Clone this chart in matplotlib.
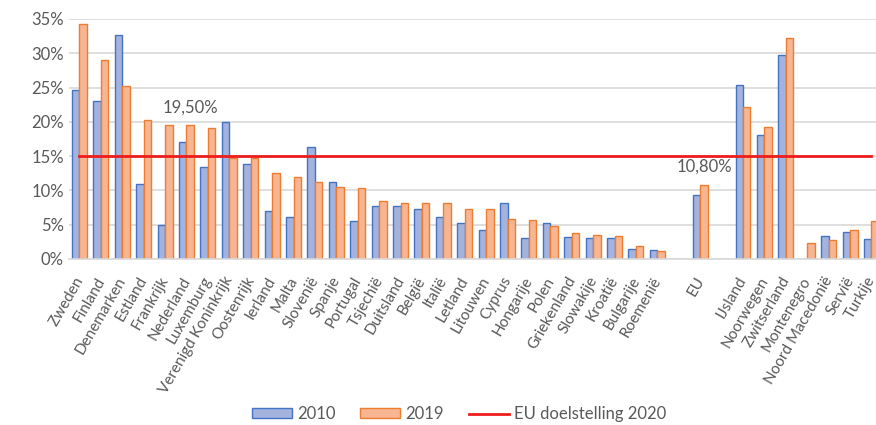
import numpy as np
import matplotlib
matplotlib.use('Agg')
import matplotlib.pyplot as plt
import matplotlib.transforms as mtransforms
from matplotlib.ticker import FuncFormatter

plt.rcParams['font.family'] = ['Lato', 'DejaVu Sans']

# data (share in %)
countries = ['Zweden', 'Finland', 'Denemarken', 'Estland', 'Frankrijk', 'Nederland',
             'Luxemburg', 'Verenigd Koninkrijk', 'Oostenrijk', 'Ierland', 'Malta',
             'Slovenië', 'Spanje', 'Portugal', 'Tsjechië', 'Duitsland', 'België',
             'Italië', 'Letland', 'Litouwen', 'Cyprus', 'Hongarije', 'Polen',
             'Griekenland', 'Slowakije', 'Kroatië', 'Bulgarije', 'Roemenië', '',
             'EU', '', 'IJsland', 'Noorwegen', 'Zwitserland', 'Montenegro',
             'Noord Macedonië', 'Servië', 'Turkije']
nan = np.nan
values_2010 = [24.7, 23.0, 32.6, 11.0, 5.0, 17.0, 13.4, 20.0, 13.8, 7.0, 6.1,
               16.4, 11.2, 5.6, 7.7, 7.7, 7.3, 6.1, 5.3, 4.3, 8.1, 3.0, 5.2,
               3.2, 3.1, 3.0, 1.5, 1.3, nan,
               9.3, nan, 25.4, 18.1, 29.8, nan, 3.4, 3.9, 2.9]
values_2019 = [34.3, 29.0, 25.3, 20.2, 19.5, 19.5, 19.1, 14.7, 14.7, 12.5, 11.9,
               11.2, 10.5, 10.4, 8.5, 8.2, 8.2, 8.1, 7.3, 7.3, 5.8, 5.7, 4.8,
               3.8, 3.5, 3.4, 1.9, 1.2, nan,
               10.8, nan, 22.2, 19.3, 32.3, 2.4, 2.8, 4.3, 5.6]
target_2020 = 15.0
labelled = {'Nederland': '19,50%', 'EU': '10,80%'}

grey = '#595959'
x = np.arange(len(countries))
w = 0.35

fig = plt.figure(figsize=(8.76, 4.25), dpi=100)
ax = fig.add_axes([0.0785, 0.3906, 0.9285, 0.5647])

b1 = ax.bar(x - w / 2, values_2010, w, color='#A3B3DE', edgecolor='#4472C4',
            linewidth=1.0, label='2010', zorder=2)
b2 = ax.bar(x + w / 2, values_2019, w, color='#F8B592', edgecolor='#ED7D31',
            linewidth=1.0, label='2019', zorder=2)
ln, = ax.plot(x, [target_2020] * len(x), color='#EE1C1C', linewidth=2,
              label='EU doelstelling 2020', zorder=3)

for name, txt in labelled.items():
    i = countries.index(name)
    ax.annotate(txt, (x[i] + w / 2, values_2019[i]), xytext=(0, 18),
                textcoords='offset pixels', ha='center', va='center',
                color=grey, fontsize=12)

ax.set_xlim(-0.5, len(x) - 0.5)
ax.set_ylim(0, 35)
ax.set_yticks(np.arange(0, 36, 5))
ax.yaxis.set_major_formatter(FuncFormatter(lambda v, p: f'{v:.0f}%'))
ax.set_xticks(x)
ax.set_xticklabels(countries, rotation=60, ha='right', rotation_mode='anchor')
ax.tick_params(axis='both', length=0, labelcolor=grey, labelsize=12)
ax.tick_params(axis='x', pad=11, labelsize=11)
# nudge the slanted labels a little to the left
shift = mtransforms.ScaledTranslation(-4 / 72, 0, fig.dpi_scale_trans)
for lbl in ax.get_xticklabels():
    lbl.set_transform(lbl.get_transform() + shift)
ax.grid(axis='y', color='#D9D9D9', linewidth=1.2, zorder=0)
ax.set_axisbelow(True)
for s in ['top', 'right', 'left']:
    ax.spines[s].set_visible(False)
ax.spines['bottom'].set_color('#D9D9D9')
ax.spines['bottom'].set_linewidth(1.2)

fig.legend(handles=[b1, b2, ln], loc='center', bbox_to_anchor=(0.524, 0.026),
           ncol=3, frameon=False, fontsize=12, labelcolor=grey,
           handlelength=2.4, handleheight=0.5, handletextpad=0.3,
           columnspacing=1.5)

fig.savefig('out.png', dpi=100)
